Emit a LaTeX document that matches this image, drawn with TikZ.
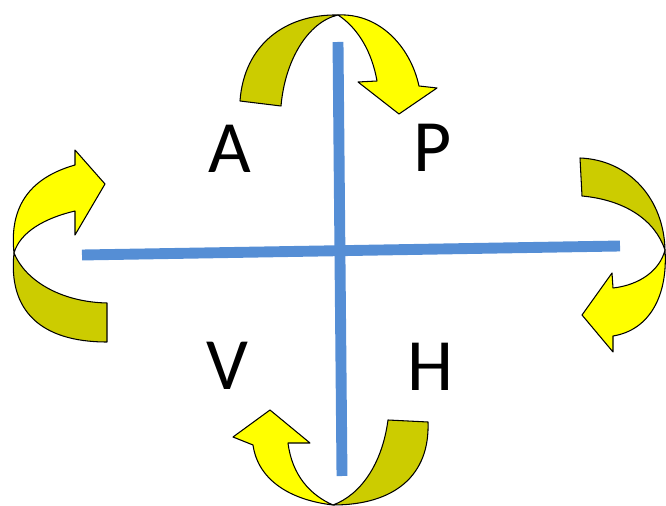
\documentclass[tikz,border=0pt]{standalone}
\usepackage{fontspec}
\setmainfont{Carlito}
\usetikzlibrary{positioning}
\definecolor{AxisBlue}{RGB}{85,142,213}
\definecolor{TurnLight}{RGB}{255,255,0}
\definecolor{TurnDark}{RGB}{204,204,0}

\begin{document}
\begin{tikzpicture}[x=0.02cm,y=-0.02cm]
    \tikzset{axis/.style={draw=AxisBlue,line width=6.2pt},
      front/.style={fill=TurnLight,draw=black,line width=0.6pt,line join=round},
      back/.style={fill=TurnDark,draw=black,line width=0.6pt,line join=round},
      letter/.style={inner sep=0pt,font=\fontsize{42}{46}\selectfont}}
    \useasboundingbox (0,0) rectangle (666,506);
    % top turn
    \draw[back] (240,101) .. controls (244,45) and (285,14) .. (338,15)
      .. controls (308,22) and (285,60) .. (281,106) -- cycle;
    \draw[front] (338,15) .. controls (378,13) and (410,45) .. (419,86) -- (437,88) -- (399,114)
      -- (358,82) -- (377,81) .. controls (372,52) and (358,28) .. (338,15) -- cycle;
    % left turn
    \draw[back] (14,253) .. controls (8,310) and (40,342) .. (107,342) -- (107,303)
      .. controls (60,302) and (25,280) .. (14,253) -- cycle;
    \draw[front] (14,253) .. controls (10,215) and (22,180) .. (75,165) -- (75,150) -- (105,184)
      -- (75,235) -- (75,211) .. controls (45,218) and (20,232) .. (14,253) -- cycle;
    % right turn
    \draw[back] (580,158) .. controls (630,160) and (664,200) .. (665,250)
      .. controls (655,220) and (625,200) .. (582,196) -- cycle;
    \draw[front] (665,250) .. controls (668,295) and (650,330) .. (613,336) -- (613,352) -- (582,315)
      -- (612,273) -- (613,288) .. controls (640,285) and (660,270) .. (665,250) -- cycle;
    % bottom turn
    \draw[back] (388,420) -- (428,422) .. controls (430,475) and (395,505) .. (333,505)
      .. controls (360,495) and (382,465) .. (388,420) -- cycle;
    \draw[front] (333,505) .. controls (290,500) and (258,480) .. (253,445) -- (233,437) -- (270,410)
      -- (310,443) -- (288,443) .. controls (292,475) and (310,495) .. (333,505) -- cycle;
    % axes
    \coordinate (west) at (82,255);
    \coordinate (east) at (620,246);
    \coordinate (north) at (338,42);
    \coordinate (south) at (342,476);
    \draw[axis] (west) -- (east);
    \draw[axis] (north) -- (south);
    \node[letter] (a) at (230,149) {A};
    \node[letter] (p) at (433,148) {P};
    \node[letter] (v) at (227,366) {V};
    \node[letter] (h) at (430,367) {H};
  \end{tikzpicture}
\end{document}
